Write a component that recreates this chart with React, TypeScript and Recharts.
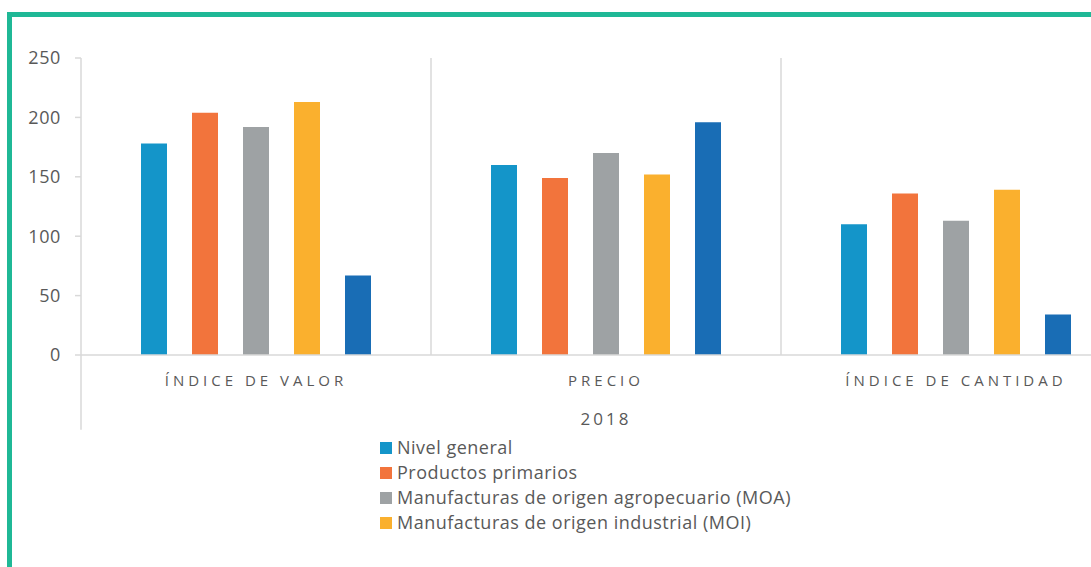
import React from "react";
import {
  BarChart,
  Bar,
  XAxis,
  YAxis,
  Legend,
  ReferenceLine,
} from "recharts";

const categories = ["ÍNDICE DE VALOR", "PRECIO", "ÍNDICE DE CANTIDAD"];
const nivelGeneral = [178, 160, 110];
const productosPrimarios = [204, 149, 136];
const moa = [192, 170, 113];
const moi = [213, 152, 139];
const otros = [67, 196, 34];
const yTicks = [0, 50, 100, 150, 200, 250];
const yearLabel = "2018";
const seriesNames = [
  "Nivel general",
  "Productos primarios",
  "Manufacturas de origen agropecuario (MOA)",
  "Manufacturas de origen industrial (MOI)",
];

const data = categories.map((name, i) => ({
  name,
  nivel: nivelGeneral[i],
  primarios: productosPrimarios[i],
  moa: moa[i],
  moi: moi[i],
  otros: otros[i],
}));

const FONT = "'Open Sans', sans-serif";
const TEXT = "#595959";
const AXIS = "#D9D9D9";
const TEAL = "#1FB896";

const CategoryTick = (props: any) => {
  const { x, y, payload } = props;
  return (
    <text
      x={x}
      y={y}
      dy="0.71em"
      textAnchor="middle"
      fill={TEXT}
      fontFamily={FONT}
      fontSize={15}
      letterSpacing={4}
    >
      {payload.value}
    </text>
  );
};

const renderLegend = (props: any) => {
  const items = (props.payload || [])
    .filter((p: any) => seriesNames.includes(p.value))
    .sort((a: any, b: any) => seriesNames.indexOf(a.value) - seriesNames.indexOf(b.value));
  return (
    <div style={{ height: 110, paddingLeft: 380, boxSizing: "border-box" }}>
      {items.map((item: any) => (
        <div
          key={item.value}
          style={{
            height: 25,
            lineHeight: "25px",
            display: "flex",
            alignItems: "center",
            fontFamily: FONT,
            fontSize: 18,
            letterSpacing: 0.5,
            color: TEXT,
          }}
        >
          <span
            style={{
              width: 12,
              height: 12,
              background: item.color,
              marginRight: 5,
              display: "inline-block",
            }}
          />
          {item.value}
        </div>
      ))}
    </div>
  );
};

export default function App() {
  return (
    <div
      style={{
        position: "fixed",
        left: 0,
        top: 0,
        width: 1091,
        height: 567,
        overflow: "hidden",
        background: "#fff",
      }}
    >
      <div
        style={{
          position: "absolute",
          left: 7,
          top: 12,
          width: 1200,
          height: 700,
          borderTop: `5px solid ${TEAL}`,
          borderLeft: `5px solid ${TEAL}`,
        }}
      />
      <div style={{ position: "absolute", left: 0, top: 0 }}>
        <BarChart
          width={1140}
          height={545}
          data={data}
          margin={{ top: 58, right: 9, left: 0, bottom: 0 }}
          barCategoryGap={60}
          barGap={25}
        >
          <XAxis
            dataKey="name"
            axisLine={{ stroke: AXIS, strokeWidth: 1.5 }}
            tickLine={false}
            tickSize={6}
            tickMargin={14}
            height={80}
            tick={<CategoryTick />}
            label={{
              value: yearLabel,
              position: "insideBottom",
              offset: 10,
              fill: TEXT,
              fontFamily: FONT,
              fontSize: 17,
              letterSpacing: 3,
            }}
          />
          <YAxis
            width={81}
            domain={[0, 250]}
            ticks={yTicks}
            interval={0}
            axisLine={{ stroke: AXIS, strokeWidth: 1.5 }}
            tickLine={{ stroke: AXIS, strokeWidth: 1.5 }}
            tickSize={6}
            tickMargin={14}
            tick={{ fill: TEXT, fontFamily: FONT, fontSize: 18, letterSpacing: 0.6 }}
          />
          <ReferenceLine x={categories[1]} position="start" stroke={AXIS} strokeWidth={1.5} />
          <ReferenceLine x={categories[2]} position="start" stroke={AXIS} strokeWidth={1.5} />
          <ReferenceLine
            segment={[
              { x: categories[0], y: 0 },
              { x: categories[0], y: -63 },
            ]}
            position="start"
            ifOverflow="visible"
            stroke={AXIS}
            strokeWidth={1.5}
          />
          <Legend verticalAlign="bottom" content={renderLegend} />
          <Bar dataKey="nivel" name={seriesNames[0]} fill="#1495C9" isAnimationActive={false} />
          <Bar dataKey="primarios" name={seriesNames[1]} fill="#F2743C" isAnimationActive={false} />
          <Bar dataKey="moa" name={seriesNames[2]} fill="#9EA2A4" isAnimationActive={false} />
          <Bar dataKey="moi" name={seriesNames[3]} fill="#FAB02E" isAnimationActive={false} />
          <Bar dataKey="otros" name="Otros" fill="#196DB5" legendType="none" isAnimationActive={false} />
        </BarChart>
      </div>
    </div>
  );
}
